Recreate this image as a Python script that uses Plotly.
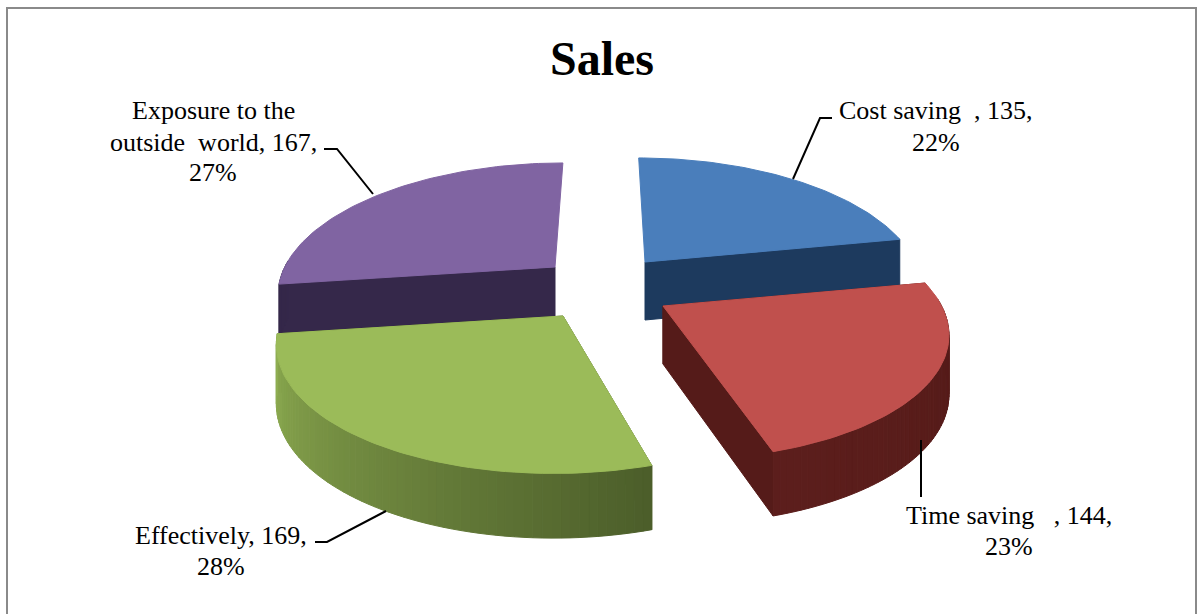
import math
import plotly.graph_objects as go

categories = ["Cost saving", "Time saving", "Effectively", "Exposure to the outside world"]
values = [135, 144, 169, 167]
percents = [22, 23, 28, 27]
title_text = "Sales"

# styling of each slice
top_colors = ["#4a7ebb", "#c0504d", "#9bbb59", "#8064a2"]
wall_start = ["#1d3a5e", "#531a18", "#8fae52", "#35284a"]
wall_end = ["#1d3a5e", "#5c1e1c", "#4c5e2a", "#35284a"]
cut_colors = ["#1d3a5e", "#551b19", "#4c5e2a", "#35284a"]
apex_px = [(645, 262), (663, 306), (563, 316), (555, 267)]
scale_x = [0.965, 0.995, 1.0, 0.965]
scale_y = [0.965, 0.975, 1.0, 0.965]
draw_order = [3, 0, 2, 1]

CX, RX, RY, K, DEPTH = 605, 280, 128, 0.187, 58


def project(i, u, v, z=0.0):
    ax, ay = apex_px[i]
    s = 1 / (1 + K * v)
    x = CX + (ax - CX) * s + RX * scale_x[i] * u * s
    y = ay - RY * scale_y[i] * v * s + z * DEPTH * (1 + 0.5 * (s - 1))
    return x, y


def hex_mix(a, b, t):
    ca = [int(a[i:i + 2], 16) for i in (1, 3, 5)]
    cb = [int(b[i:i + 2], 16) for i in (1, 3, 5)]
    return "rgb(%d,%d,%d)" % tuple(round(p + (q - p) * t) for p, q in zip(ca, cb))


def poly(points, color, name):
    xs = [p[0] for p in points] + [points[0][0]]
    ys = [p[1] for p in points] + [points[0][1]]
    return go.Scatter(x=xs, y=ys, mode="lines", fill="toself", fillcolor=color,
                      line=dict(color=color, width=1), hoverinfo="text", text=name,
                      showlegend=False)


total = sum(values)
spans, acc = [], 0.0
for v in values:
    spans.append((acc / total * 2 * math.pi, (acc + v) / total * 2 * math.pi))
    acc += v

fig = go.Figure()
for i in draw_order:
    a0, a1 = spans[i]
    n = 64
    angs = [a0 + (a1 - a0) * k / n for k in range(n + 1)]
    name = f"{categories[i]}, {values[i]}, {percents[i]}%"
    apex_t, apex_b = project(i, 0, 0), project(i, 0, 0, 1)
    # radial cut walls that face the viewer
    for a in (a0, a1):
        u, v = math.sin(a), math.cos(a)
        if v > 0.9:
            continue
        fig.add_trace(poly([apex_t, project(i, u, v), project(i, u, v, 1), apex_b],
                           cut_colors[i], name))
    # outer wall, only the part that faces the viewer
    for k in range(n):
        p, q = angs[k], angs[k + 1]
        if math.cos((p + q) / 2) > 0.05:
            continue
        t = k / (n - 1)
        if i == 2:
            t = 1 - t
        col = hex_mix(wall_start[i], wall_end[i], t)
        fig.add_trace(poly([project(i, math.sin(p), math.cos(p)),
                            project(i, math.sin(q), math.cos(q)),
                            project(i, math.sin(q), math.cos(q), 1),
                            project(i, math.sin(p), math.cos(p), 1)], col, name))
    # top surface
    pts = [apex_t] + [project(i, math.sin(a), math.cos(a)) for a in angs]
    fig.add_trace(poly(pts, top_colors[i], name))

leaders = [
    ([793, 820, 832], [179, 118, 118]),
    ([921, 921], [440, 497]),
    ([386, 327, 315], [511, 542, 542]),
    ([373, 337, 324], [194, 149, 149]),
]
for lx, ly in leaders:
    fig.add_trace(go.Scatter(x=lx, y=ly, mode="lines", line=dict(color="black", width=2),
                             hoverinfo="skip", showlegend=False))

nb = "\u00a0"
label_lines = [
    (936, 110, f"Cost saving{nb}{nb}, {values[0]},"),
    (936, 142, f"{percents[0]}%"),
    (1009, 515, f"Time saving{nb}{nb}{nb}, {values[1]},"),
    (1009, 546, f"{percents[1]}%"),
    (221, 535, f"Effectively, {values[2]},"),
    (221, 566, f"{percents[2]}%"),
    (213, 110, "Exposure to the"),
    (213, 142, f"outside{nb}{nb}world, {values[3]},"),
    (213, 172, f"{percents[3]}%"),
]
annotations = [dict(x=x, y=y, text=t, showarrow=False, xanchor="center", yanchor="middle",
                    font=dict(family="Liberation Serif", size=26, color="black"))
               for x, y, t in label_lines]
annotations.append(dict(x=602, y=58, text=f"<b>{title_text}</b>", showarrow=False,
                        xanchor="center", yanchor="middle",
                        font=dict(family="Liberation Serif", size=48, color="black")))

fig.update_layout(
    width=1197, height=614, margin=dict(l=0, r=0, t=0, b=0),
    paper_bgcolor="white", plot_bgcolor="white", showlegend=False,
    xaxis=dict(range=[0, 1197], visible=False, fixedrange=True),
    yaxis=dict(range=[614, 0], visible=False, fixedrange=True),
    annotations=annotations,
    shapes=[dict(type="rect", xref="x", yref="y", x0=7, y0=8, x1=1196, y1=640,
                 line=dict(color="#8a8a8a", width=2), layer="below")],
)
fig.write_html("out.html", config={"displayModeBar": False},
               post_script="document.body.style.margin='0';document.body.style.overflow='hidden';")
